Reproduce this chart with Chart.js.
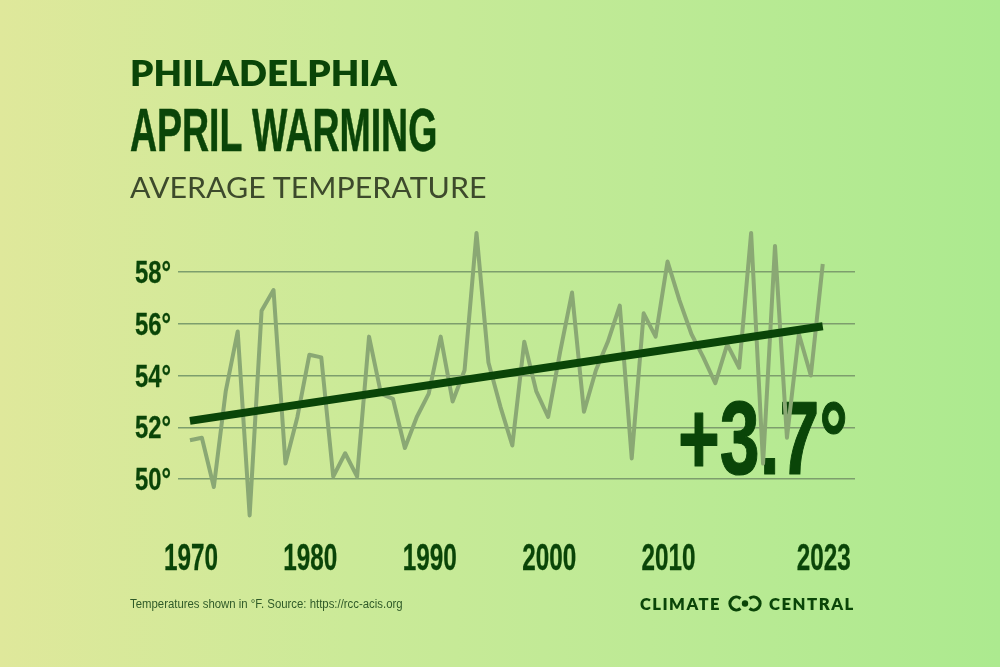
<!DOCTYPE html>
<html>
<head>
<meta charset="utf-8">
<title>Philadelphia April Warming</title>
<script src="https://cdn.jsdelivr.net/npm/chart.js@4"></script>
<style>
  html, body { margin: 0; padding: 0; }
  body {
    width: 1000px; height: 667px; overflow: hidden; position: relative;
    background: linear-gradient(90deg, #dfe89b 0%, #cbea98 35%, #bdea95 65%, #acea8f 100%);
  }
  canvas { position: absolute; left: 0; top: 0; }
  .txt { position: absolute; white-space: nowrap; transform-origin: left top; line-height: 1; }
  #city { left: 130px; top: 51px; font: 800 35px Lato, sans-serif; color: #0a4508; }
  #title { left: 130px; top: 95px; font: bold 61px "Liberation Sans", sans-serif; color: #0a4508; -webkit-text-stroke: 0.6px #0a4508; }
  #sub { left: 130px; top: 170px; font: 400 28px Lato, sans-serif; color: #3d4a2c; }
  #source { left: 130px; top: 597px; font: 400 12px "Liberation Sans", sans-serif; color: #2f5a28; }
  #brand1, #brand2 { top: 594px; font: 800 16.5px Lato, sans-serif; letter-spacing: 1.5px; color: #0a4508; }
  #brand1 { left: 640px; }
  #brand2 { left: 769px; }
  #logo { position: absolute; left: 728px; top: 595px; }
</style>
</head>
<body>
<canvas id="chart" width="1000" height="667"></canvas>
<div class="txt" id="city" data-w="267">PHILADELPHIA</div>
<div class="txt" id="title" data-w="307">APRIL WARMING</div>
<div class="txt" id="sub" data-w="357">AVERAGE TEMPERATURE</div>
<div class="txt" id="source" data-w="273">Temperatures shown in °F. Source: https://rcc-acis.org</div>
<div class="txt" id="brand1" data-w="81">CLIMATE</div>
<div class="txt" id="brand2" data-w="86">CENTRAL</div>
<svg id="logo" width="35" height="17" viewBox="0 0 35 17">
  <path d="M12.5 3.4 A6.5 6.5 0 1 0 12.5 13.6" fill="none" stroke="#0a4508" stroke-width="3.2"/>
  <circle cx="17" cy="8.5" r="3.2" fill="#0a4508"/>
  <path d="M21.5 3.4 A6.5 6.5 0 1 1 21.5 13.6" fill="none" stroke="#0a4508" stroke-width="3.2"/>
</svg>
<script>
const years = [1970,1971,1972,1973,1974,1975,1976,1977,1978,1979,
  1980,1981,1982,1983,1984,1985,1986,1987,1988,1989,
  1990,1991,1992,1993,1994,1995,1996,1997,1998,1999,
  2000,2001,2002,2003,2004,2005,2006,2007,2008,2009,
  2010,2011,2012,2013,2014,2015,2016,2017,2018,2019,
  2020,2021,2022,2023];
const temps = [51.5,51.6,49.7,53.4,55.7,48.6,56.5,57.3,50.6,52.4,
  54.8,54.7,50.1,51.0,50.1,55.5,53.3,53.1,51.2,52.4,
  53.3,55.5,53.0,54.2,59.5,54.5,52.8,51.3,55.3,53.4,
  52.4,54.9,57.2,52.6,54.2,55.3,56.7,50.8,56.4,55.5,
  58.4,56.9,55.6,54.7,53.7,55.2,54.3,59.5,50.6,59.0,
  51.6,55.6,54.0,58.3];
const trendYears = [1970, 2023];
const trendTemps = [52.25, 55.9];
const yTicks = [50, 52, 54, 56, 58];
const xTicks = [1970, 1980, 1990, 2000, 2010, 2023];

const DARK = '#0a4508';
const BOLD = '"Liberation Sans", sans-serif';

// squeeze text horizontally, there is no real condensed face installed
document.querySelectorAll('.txt').forEach(el => {
  el.style.transform = `scaleX(${el.dataset.w / el.offsetWidth})`;
});

function fitText(ctx, text, x, y, width, font, align, heavy) {
  ctx.save();
  ctx.font = font;
  ctx.fillStyle = DARK;
  ctx.strokeStyle = DARK;
  ctx.lineWidth = heavy;
  ctx.lineJoin = 'round';
  ctx.textBaseline = 'alphabetic';
  const sx = width / ctx.measureText(text).width;
  ctx.translate(align === 'center' ? x - width / 2 : x, y);
  ctx.scale(sx, 1);
  ctx.textAlign = 'left';
  ctx.fillText(text, 0, 0);
  ctx.strokeText(text, 0, 0);
  ctx.restore();
}

// big number sits above the grid but under the lines
const labelsPlugin = {
  id: 'labels',
  beforeDatasetsDraw(chart) {
    fitText(chart.ctx, '+3.7°', 678, 474, 170, 'bold 103px ' + BOLD, 'left', 1.2);
  },
  afterDraw(chart) {
    const { x, y } = chart.scales;
    xTicks.forEach(v => {
      fitText(chart.ctx, String(v), x.getPixelForValue(v) + 1, 570, 54, 'bold 36px ' + BOLD, 'center', 0.3);
    });
    yTicks.forEach(v => {
      fitText(chart.ctx, v + '°', 135, y.getPixelForValue(v) + 11, 36, 'bold 31px ' + BOLD, 'left', 0.3);
    });
  }
};

new Chart(document.getElementById('chart').getContext('2d'), {
  type: 'line',
  data: {
    datasets: [
      {
        label: 'Trend',
        data: trendYears.map((y, i) => ({ x: y, y: trendTemps[i] })),
        borderColor: DARK,
        borderWidth: 8,
        pointRadius: 0,
        order: 1
      },
      {
        label: 'April average',
        data: years.map((y, i) => ({ x: y, y: temps[i] })),
        borderColor: '#8aa874',
        borderWidth: 4,
        pointRadius: 0,
        borderJoinStyle: 'round',
        order: 2
      }
    ]
  },
  options: {
    responsive: false,
    animation: false,
    layout: { padding: { top: 220, right: 145, left: 0, bottom: 0 } },
    plugins: { legend: { display: false }, tooltip: { enabled: false } },
    scales: {
      x: {
        type: 'linear',
        min: 1969,
        max: 2025.7,
        afterBuildTicks: (s) => { s.ticks = xTicks.map(v => ({ value: v })); },
        afterFit: (s) => { s.height = 136; },
        grid: { display: false },
        border: { display: false },
        ticks: { display: false }
      },
      y: {
        min: 48,
        max: 60,
        afterBuildTicks: (s) => { s.ticks = yTicks.map(v => ({ value: v })); },
        afterFit: (s) => { s.width = 178; },
        grid: { color: '#7d9e6d', lineWidth: 1.5, drawTicks: false },
        border: { display: false },
        ticks: { display: false }
      }
    }
  },
  plugins: [labelsPlugin]
});
</script>
</body>
</html>
